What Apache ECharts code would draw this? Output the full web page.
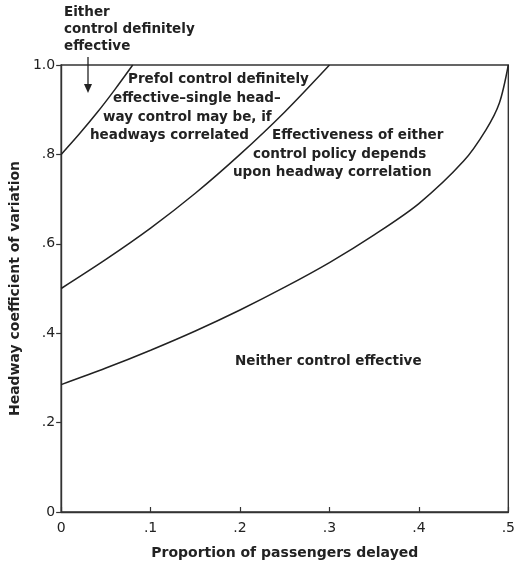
<!DOCTYPE html>
<html>
<head>
<meta charset="utf-8">
<script src="https://cdn.jsdelivr.net/npm/echarts@6/dist/echarts.min.js"></script>
<style>html,body{margin:0;padding:0;background:#fff}#c{width:518px;height:569px}</style>
</head>
<body>
<div id="c"></div>
<script>
// Boundary curves (x = proportion of passengers delayed, y = headway coefficient of variation)
const curve1X = [0, 0.02, 0.04, 0.06, 0.08];
const curve1Y = [0.80, 0.845, 0.893, 0.945, 1.0];
const curve2X = [0, 0.05, 0.10, 0.15, 0.20, 0.25, 0.30];
const curve2Y = [0.50, 0.565, 0.635, 0.713, 0.80, 0.895, 1.0];
const curve3X = [0, 0.05, 0.10, 0.15, 0.20, 0.25, 0.30, 0.35, 0.40, 0.45, 0.475, 0.49, 0.50];
const curve3Y = [0.285, 0.322, 0.362, 0.405, 0.452, 0.503, 0.558, 0.62, 0.69, 0.785, 0.855, 0.915, 1.0];
const xTickLabels = ['0', '.1', '.2', '.3', '.4', '.5'];
const yTickLabels = ['0', '.2', '.4', '.6', '.8', '1.0'];
const xTitle = 'Proportion of passengers delayed';
const yTitle = 'Headway coefficient of variation';
const noteEither = ['Either', 'control definitely', 'effective'];
const notePrefol = ['Prefol control definitely', 'effective\u2013single head\u2013', 'way control may be, if', 'headways correlated'];
const noteDepends = ['Effectiveness of either', 'control policy depends', 'upon headway correlation'];
const noteNeither = 'Neither control effective';

const FONT = '"DejaVu Sans", sans-serif';
const NOTE_FONT = 'bold 13.5px ' + FONT;
const INK = '#222';
const zip = (xs, ys) => xs.map((x, i) => [x, ys[i]]);

const chart = echarts.init(document.getElementById('c'), null, {renderer: 'canvas'});

const lineSeries = (d) => ({
  type: 'line', data: d, showSymbol: false, smooth: 0.3,
  lineStyle: {color: INK, width: 1.5}, silent: true, z: 3
});

const txt = (t, left, top) => ({type: 'text', left, top, style: {text: t, fill: INK, font: NOTE_FONT}});

const eitherLeft = [64, 64, 64];
const eitherTop = [5, 22, 39];
const prefolLeft = [128, 113, 103, 90];
const prefolTop = [72, 91, 110, 128];
const dependsLeft = [272, 253, 233];
const dependsTop = [128, 147, 165];

chart.setOption({
  animation: false,
  backgroundColor: '#fff',
  grid: {left: 61, right: 5, top: 65, bottom: 57, show: true, borderColor: '#333', borderWidth: 1.4, backgroundColor: 'transparent'},
  xAxis: {
    type: 'value', min: 0, max: 0.5, interval: 0.1,
    name: xTitle, nameLocation: 'middle', nameGap: 34,
    nameTextStyle: {fontFamily: FONT, fontSize: 14, fontWeight: 'bold', color: INK},
    axisLine: {lineStyle: {color: '#333', width: 1.4}},
    axisTick: {inside: true, length: 5, lineStyle: {color: '#333', width: 1.2}},
    splitLine: {show: false},
    axisLabel: {margin: 9, fontFamily: FONT, fontSize: 14, color: INK,
      formatter: (v) => xTickLabels[Math.round(v * 10)]}
  },
  yAxis: {
    type: 'value', min: 0, max: 1, interval: 0.2,
    name: yTitle, nameLocation: 'middle', nameGap: 38, nameRotate: 90,
    nameTextStyle: {fontFamily: FONT, fontSize: 14, fontWeight: 'bold', color: INK},
    axisLine: {show: true, lineStyle: {color: '#333', width: 1.4}},
    axisTick: {show: true, inside: false, length: 5, lineStyle: {color: '#333', width: 1.2}},
    splitLine: {show: false},
    axisLabel: {margin: 6, fontFamily: FONT, fontSize: 14, color: INK,
      formatter: (v) => yTickLabels[Math.round(v * 5)]}
  },
  series: [
    lineSeries(zip(curve1X, curve1Y)),
    lineSeries(zip(curve2X, curve2Y)),
    lineSeries(zip(curve3X, curve3Y))
  ],
  graphic: [
    ...noteEither.map((t, i) => txt(t, eitherLeft[i], eitherTop[i])),
    {type: 'line', shape: {x1: 88, y1: 57, x2: 88, y2: 88}, style: {stroke: INK, lineWidth: 1.3}},
    {type: 'polygon', shape: {points: [[84, 84], [92, 84], [88, 93]]}, style: {fill: INK}},
    ...notePrefol.map((t, i) => txt(t, prefolLeft[i], prefolTop[i])),
    ...noteDepends.map((t, i) => txt(t, dependsLeft[i], dependsTop[i])),
    txt(noteNeither, 235, 354)
  ]
});
</script>
</body>
</html>
